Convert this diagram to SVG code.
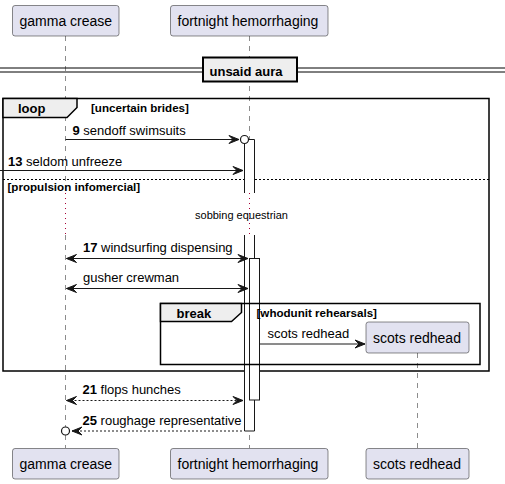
<svg xmlns="http://www.w3.org/2000/svg" width="505" height="484" viewBox="0 0 505 484">
<style>
text{font-family:"Liberation Sans",Arial,sans-serif;fill:#000}
.p rect{fill:#E2E2F0;stroke:#181818;stroke-width:0.5}
.p text{font-size:14px}
.life{stroke:#181818;stroke-width:0.5;stroke-dasharray:5,5;fill:none}
.delay{stroke:#A80036;stroke-width:1;stroke-dasharray:1,4;fill:none}
.act{fill:#FFFFFF;stroke:#181818;stroke-width:1}
.actl{fill:none;stroke:#181818;stroke-width:1}
.msg{stroke:#181818;stroke-width:1;fill:none}
.dash{stroke-dasharray:2,2}
.head{fill:#181818;stroke:#181818;stroke-width:1}
.m{font-size:13px}
.b{font-weight:bold}
.frame{fill:none;stroke:#000;stroke-width:1.5}
.tab{fill:#EEEEEE;stroke:#000;stroke-width:1.5}
.g{font-size:11.6px;font-weight:bold}
</style>
<g id="lifelines">
<line class="life" x1="65.5" y1="36" x2="65.5" y2="193"/>
<line class="delay" x1="65.5" y1="193" x2="65.5" y2="235"/>
<line class="life" x1="65.5" y1="235" x2="65.5" y2="448"/>
<line class="life" x1="249.5" y1="36" x2="249.5" y2="193"/>
<line class="delay" x1="249.5" y1="193" x2="249.5" y2="235"/>
<line class="life" x1="249.5" y1="235" x2="249.5" y2="448"/>
<line class="life" x1="417.5" y1="353" x2="417.5" y2="448"/>
</g>
<g id="divider">
<line x1="0" y1="68" x2="505" y2="68" stroke="#000" stroke-width="1"/>
<line x1="0" y1="72" x2="505" y2="72" stroke="#000" stroke-width="1"/>
<rect x="203" y="57.5" width="94" height="24" fill="#EEEEEE" stroke="#000" stroke-width="2"/>
<text x="209.5" y="75.5" class="m b">unsaid aura</text>
</g>
<g id="loop">
<rect class="frame" x="3" y="98.5" width="486" height="272.5"/>
<path class="tab" d="M3,98.5 H77 V107.5 L67,117.5 H3 Z"/>
<text x="18" y="113" class="m b">loop</text>
<text x="91" y="112" class="g">[uncertain brides]</text>
<line x1="3" y1="179.5" x2="489" y2="179.5" stroke="#000" stroke-width="1" stroke-dasharray="2,2"/>
<text x="7.5" y="191" class="g">[propulsion infomercial]</text>
</g>
<g id="activations">
<rect x="244.5" y="139.5" width="10" height="53.5" fill="#FFFFFF"/>
<rect x="244.5" y="235" width="10" height="196" fill="#FFFFFF"/>
<path class="actl" d="M244.5,193 V139.5 H254.5 V193 M244.5,235 V431 H254.5 V235"/>
<rect class="act" x="249.5" y="258.5" width="10" height="141.5"/>
</g>
<g id="break">
<rect class="frame" x="160.5" y="303.5" width="319.5" height="61"/>
<path class="tab" d="M160.5,303.5 H241.5 V312.5 L231.5,321.5 H160.5 Z"/>
<text x="176.5" y="318" class="m b">break</text>
<text x="256.5" y="317" class="g">[whodunit rehearsals]</text>
</g>
<g id="connectors">
<line class="msg" x1="65.5" y1="139.5" x2="239" y2="139.5"/>
<polygon class="head" points="229,135.5 239,139.5 229,143.5 233,139.5"/>
<circle cx="244.5" cy="139.5" r="4" fill="#FFFFFF" stroke="#181818" stroke-width="1.2"/>
<text x="72.5" y="135" class="m"><tspan class="b">9</tspan> sendoff swimsuits</text>

<line class="msg" x1="0" y1="170.5" x2="243" y2="170.5"/>
<polygon class="head" points="233,166.5 243,170.5 233,174.5 237,170.5"/>
<text x="8" y="166" class="m"><tspan class="b">13</tspan> seldom unfreeze</text>

<text x="241.5" y="219" font-size="11" text-anchor="middle">sobbing equestrian</text>

<line class="msg" x1="66.5" y1="258.5" x2="248" y2="258.5"/>
<polygon class="head" points="238,254.5 248,258.5 238,262.5 242,258.5"/>
<polygon class="head" points="76.5,254.5 66.5,258.5 76.5,262.5 72.5,258.5"/>
<text x="83" y="252" class="m"><tspan class="b">17</tspan> windsurfing dispensing</text>

<line class="msg" x1="66.5" y1="288.5" x2="248" y2="288.5"/>
<polygon class="head" points="238,284.5 248,288.5 238,292.5 242,288.5"/>
<polygon class="head" points="76.5,284.5 66.5,288.5 76.5,292.5 72.5,288.5"/>
<text x="83" y="282" class="m">gusher crewman</text>

<line class="msg" x1="259.5" y1="344" x2="365" y2="344"/>
<polygon class="head" points="355,340 365,344 355,348 359,344"/>
<text x="267.5" y="338" class="m">scots redhead</text>

<line class="msg dash" x1="66.5" y1="400.5" x2="243" y2="400.5"/>
<polygon class="head" points="233,396.5 243,400.5 233,404.5 237,400.5"/>
<polygon class="head" points="76.5,396.5 66.5,400.5 76.5,404.5 72.5,400.5"/>
<text x="82.5" y="394" class="m"><tspan class="b">21</tspan> flops hunches</text>

<line class="msg dash" x1="72" y1="431" x2="244" y2="431"/>
<polygon class="head" points="82,427 72,431 82,435 78,431"/>
<circle cx="65.5" cy="431" r="4" fill="#FFFFFF" stroke="#181818" stroke-width="1.2"/>
<text x="82.5" y="425" class="m"><tspan class="b">25</tspan> roughage representative</text>
</g>
<g id="p-gamma" class="p">
<rect x="12.5" y="5.5" width="106.5" height="30.5" rx="2.5"/>
<text x="19.5" y="26">gamma crease</text>
<rect x="12.5" y="448.5" width="106.5" height="30.5" rx="2.5"/>
<text x="19.5" y="469">gamma crease</text>
</g>
<g id="p-fortnight" class="p">
<rect x="170.5" y="5.5" width="157.5" height="30.5" rx="2.5"/>
<text x="177.5" y="26">fortnight hemorrhaging</text>
<rect x="170.5" y="448.5" width="157.5" height="30.5" rx="2.5"/>
<text x="177.5" y="469">fortnight hemorrhaging</text>
</g>
<g id="p-scots" class="p">
<rect x="366" y="322" width="103" height="31" rx="2.5"/>
<text x="373" y="342.5">scots redhead</text>
<rect x="366" y="448.5" width="103" height="30.5" rx="2.5"/>
<text x="373" y="469">scots redhead</text>
</g>
</svg>
